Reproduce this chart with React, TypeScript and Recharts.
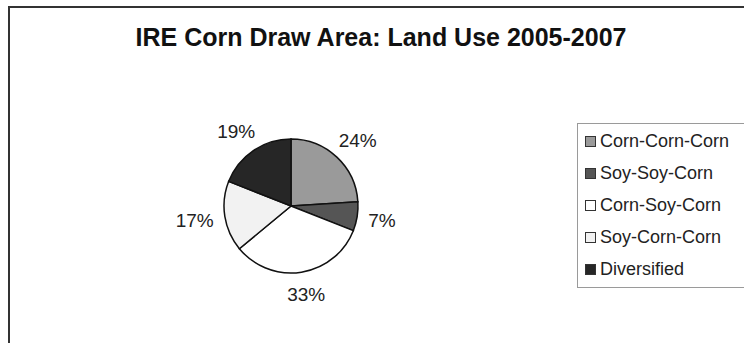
import { PieChart, Pie, Cell, Legend } from "recharts"

const categories = ["Corn-Corn-Corn", "Soy-Soy-Corn", "Corn-Soy-Corn", "Soy-Corn-Corn", "Diversified"]
const shares = [24, 7, 33, 17, 19]
const colors = ["#9a9a9a", "#555555", "#ffffff", "#f2f2f2", "#262626"]

const data = categories.map((name, i) => ({ name, value: shares[i] }))

const RAD = Math.PI / 180
const FONT = "'Liberation Sans', Arial, sans-serif"

const renderLabel = (props: any) => {
  const { cx, cy, midAngle, outerRadius, value } = props
  const dx = Math.cos(-midAngle * RAD)
  const dy = Math.sin(-midAngle * RAD)
  const text = `${value}%`
  const halfW = text.length * 5.5
  const x = cx + (outerRadius + 14) * dx + halfW * dx
  const y = cy + (outerRadius + 14) * dy + 9 * dy
  return (
    <text x={x} y={y} fill="#222" fontSize={19} fontFamily={FONT} textAnchor="middle" dominantBaseline="central">
      {text}
    </text>
  )
}

const renderLegend = () => (
  <div
    style={{
      border: "1px solid #9a9a9a",
      borderRight: "none",
      paddingTop: 1,
      paddingLeft: 7,
      height: 165,
      boxSizing: "border-box",
      fontFamily: FONT,
    }}
  >
    {data.map((d, i) => (
      <div key={d.name} style={{ display: "flex", alignItems: "center", height: 32, fontSize: 18, color: "#222" }}>
        <span
          style={{
            display: "inline-block",
            width: 9,
            height: 9,
            background: colors[i],
            border: "1px solid #333",
            marginRight: 4,
          }}
        />
        {d.name}
      </div>
    ))}
  </div>
)

export default function App() {
  return (
    <div style={{ position: "fixed", inset: 0, overflow: "hidden", background: "#fff" }}>
      <div
        style={{
          position: "absolute",
          left: 8,
          top: 6,
          width: 780,
          height: 380,
          border: "2px solid #333",
        }}
      />
      <div
        style={{
          position: "absolute",
          left: 0,
          top: 23,
          width: 762,
          textAlign: "center",
          fontFamily: FONT,
          fontWeight: "bold",
          fontSize: 25,
          color: "#111",
        }}
      >
        IRE Corn Draw Area: Land Use 2005-2007
      </div>
      <div style={{ position: "absolute", left: 0, top: 0 }}>
        <PieChart width={744} height={343} margin={{ top: 0, right: 0, bottom: 0, left: 0 }}>
          <Pie
            data={data}
            dataKey="value"
            nameKey="name"
            cx={291}
            cy={206}
            outerRadius={67}
            startAngle={90}
            endAngle={-270}
            stroke="#111"
            strokeWidth={1.5}
            label={renderLabel}
            labelLine={false}
            isAnimationActive={false}
          >
            {data.map((d, i) => (
              <Cell key={d.name} fill={colors[i]} />
            ))}
          </Pie>
          <Legend
            content={renderLegend}
            wrapperStyle={{ position: "absolute", left: 577, top: 123, width: 180 }}
          />
        </PieChart>
      </div>
    </div>
  )
}
